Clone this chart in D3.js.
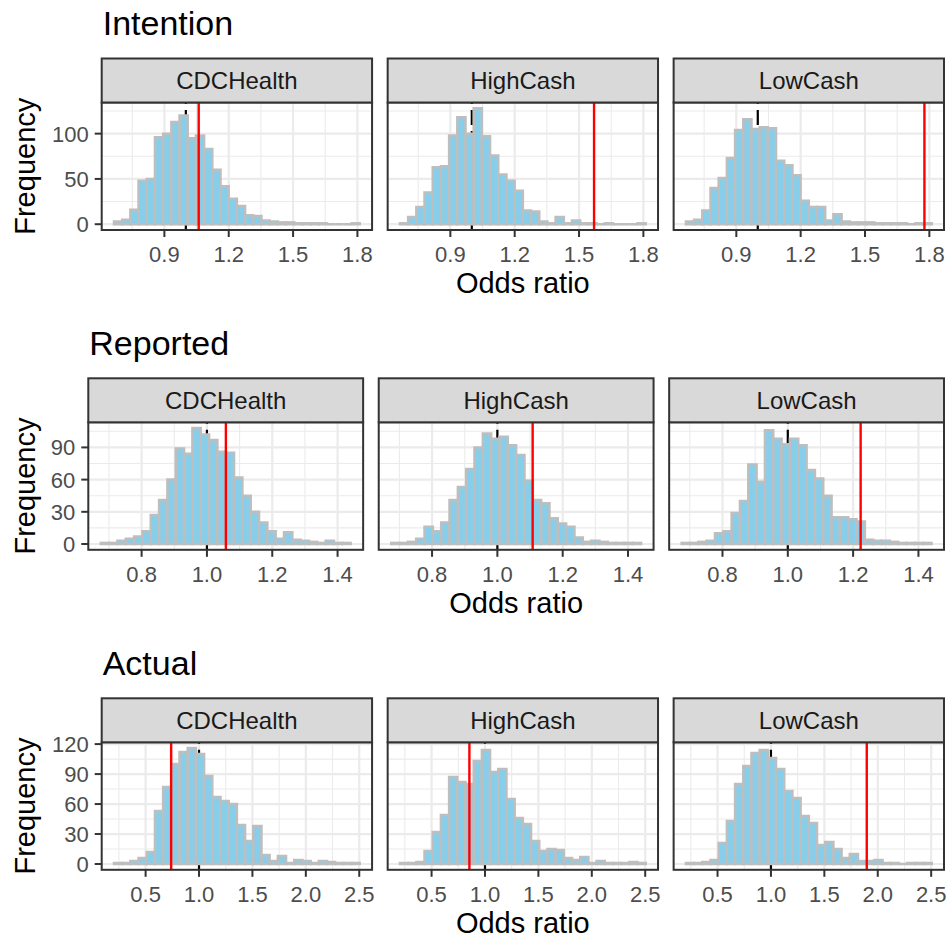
<!DOCTYPE html>
<html>
<head>
<meta charset="utf-8">
<script src="https://cdn.jsdelivr.net/npm/d3@7"></script>
<style>
  body { margin: 0; background: #fff; }
  svg { font-family: "Liberation Sans", Arial, Helvetica, sans-serif; }
</style>
</head>
<body>
<svg id="chart"></svg>
<script>
// facet names and outcome names
var arms = ["CDCHealth", "HighCash", "LowCash"];
var outcomes = ["Intention", "Reported", "Actual"];

// histogram bins (left edge of first bin, bin width), 30 bins per panel
var binStart = [0.665, 0.675, 0.204];
var binWidth = [0.0382, 0.0255, 0.0767];

// permutation counts
var intentionCDC  = [3,5,16,48,50,96,100,113,120,95,98,83,60,42,28,20,10,9,4,3,2,2,1,1,1,1,0,0,0,1];
var intentionHigh = [1,8,19,35,63,64,98,118,100,128,97,76,55,48,37,15,14,3,1,8,1,4,1,1,0,1,0,0,0,1];
var intentionLow  = [3,5,15,40,51,73,104,116,105,107,106,70,65,54,26,19,19,4,11,3,2,2,2,1,1,1,1,0,1,1];

var reportedCDC  = [1,1,3,5,7,12,27,41,60,89,84,108,102,97,86,85,62,45,30,20,12,5,11,4,3,2,1,3,1,1];
var reportedHigh = [1,1,2,5,16,12,20,41,53,70,90,103,98,100,92,83,59,41,38,24,19,16,6,2,3,2,1,1,1,1];
var reportedLow  = [1,1,2,3,10,12,29,40,74,58,106,98,93,98,92,69,61,45,25,25,23,21,4,3,3,2,1,1,1,1];

var actualCDC  = [1,1,3,6,12,53,77,100,112,116,110,88,67,63,60,39,23,38,9,3,8,1,4,3,1,3,2,1,1,1];
var actualHigh = [1,1,2,13,32,49,87,82,80,103,114,92,95,65,46,40,23,13,15,14,6,4,7,1,3,1,1,1,2,1];
var actualLow  = [1,1,2,4,21,43,80,98,111,114,106,95,73,66,48,41,19,22,15,6,10,3,3,4,1,1,0,1,1,1];

var counts = [
    [intentionCDC, intentionHigh, intentionLow],
    [reportedCDC, reportedHigh, reportedLow],
    [actualCDC, actualHigh, actualLow]
];

// observed odds ratios (red) and null value (black dashed)
var observedIntention = [1.06, 1.57, 1.777];
var observedReported  = [1.058, 1.108, 1.223];
var observedActual    = [0.739, 0.854, 1.897];
var observed = [observedIntention, observedReported, observedActual];
var nullValue = 1;

// tick values
var xTicks = [[0.9, 1.2, 1.5, 1.8], [0.8, 1.0, 1.2, 1.4], [0.5, 1.0, 1.5, 2.0, 2.5]];
var yTicks = [[0, 50, 100], [0, 30, 60, 90], [0, 30, 60, 90, 120]];

// layout
var width = 951, height = 942;
var rowLeft = [101.7, 88.3, 101.7];
var rowTop = [58.5, 378.3, 698.3];
var rightEdge = 944, gap = 15.6, stripH = 44, plotH = 127.5;

var svg = d3.select("#chart")
    .attr("width", width)
    .attr("height", height);

svg.append("rect")
    .attr("width", width)
    .attr("height", height)
    .attr("fill", "#fff");

function expand(lo, hi) {
    var pad = (hi - lo) * 0.05;
    return [lo - pad, hi + pad];
}

function minorTicks(ticks, domain) {
    var step = ticks[1] - ticks[0];
    var out = [];
    ticks.forEach(function(t) { out.push(t - step / 2); });
    out.push(ticks[ticks.length - 1] + step / 2);
    return out.filter(function(v) { return v >= domain[0] && v <= domain[1]; });
}

outcomes.forEach(function(outcome, r) {
    var left = rowLeft[r];
    var panelW = (rightEdge - left - 2 * gap) / 3;
    var stripTop = rowTop[r];
    var plotTop = stripTop + stripH;
    var plotBottom = plotTop + plotH;

    // shared scales within the row
    var lo = binStart[r], hi = binStart[r] + 30 * binWidth[r];
    var yMax = d3.max(counts[r], function(c) { return d3.max(c); });

    var xDomain = expand(lo, hi);
    var yDomain = expand(0, yMax);

    var y = d3.scaleLinear().domain(yDomain).range([plotBottom, plotTop]);

    // row title
    svg.append("text")
        .attr("x", left + 1)
        .attr("y", stripTop - 23.5)
        .style("font-size", "34px")
        .attr("fill", "#000")
        .text(outcome);

    // y axis title
    svg.append("text")
        .attr("transform", "translate(35," + ((plotTop + plotBottom) / 2) + ") rotate(-90)")
        .style("text-anchor", "middle")
        .style("font-size", "29px")
        .attr("fill", "#000")
        .text("Frequency");

    // x axis title
    svg.append("text")
        .attr("x", (left + rightEdge) / 2)
        .attr("y", plotBottom + 63)
        .style("text-anchor", "middle")
        .style("font-size", "29px")
        .attr("fill", "#000")
        .text("Odds ratio");

    arms.forEach(function(arm, a) {
        var px = left + a * (panelW + gap);
        var x = d3.scaleLinear().domain(xDomain).range([px, px + panelW]);
        var g = svg.append("g").attr("class", "panel");

        // grid
        g.selectAll(".xminor")
            .data(minorTicks(xTicks[r], xDomain))
            .enter().append("line")
            .attr("x1", function(d) { return x(d); })
            .attr("x2", function(d) { return x(d); })
            .attr("y1", plotTop).attr("y2", plotBottom)
            .attr("stroke", "#EBEBEB").attr("stroke-width", 1.1);
        g.selectAll(".yminor")
            .data(minorTicks(yTicks[r], yDomain))
            .enter().append("line")
            .attr("x1", px).attr("x2", px + panelW)
            .attr("y1", function(d) { return y(d); })
            .attr("y2", function(d) { return y(d); })
            .attr("stroke", "#EBEBEB").attr("stroke-width", 1.1);
        g.selectAll(".xmajor")
            .data(xTicks[r])
            .enter().append("line")
            .attr("x1", function(d) { return x(d); })
            .attr("x2", function(d) { return x(d); })
            .attr("y1", plotTop).attr("y2", plotBottom)
            .attr("stroke", "#EBEBEB").attr("stroke-width", 2.2);
        g.selectAll(".ymajor")
            .data(yTicks[r])
            .enter().append("line")
            .attr("x1", px).attr("x2", px + panelW)
            .attr("y1", function(d) { return y(d); })
            .attr("y2", function(d) { return y(d); })
            .attr("stroke", "#EBEBEB").attr("stroke-width", 2.2);

        // null line (under the bars)
        g.append("line")
            .attr("x1", x(nullValue)).attr("x2", x(nullValue))
            .attr("y1", plotBottom).attr("y2", plotTop)
            .attr("stroke", "#000")
            .attr("stroke-width", 2.2)
            .attr("stroke-dasharray", "15,6");

        // bars as paths so empty bins still show their outline
        g.selectAll(".bar")
            .data(counts[r][a])
            .enter().append("path")
            .attr("class", "bar")
            .attr("d", function(d, i) {
                var x0 = x(binStart[r] + i * binWidth[r]);
                var x1 = x(binStart[r] + (i + 1) * binWidth[r]);
                return "M" + x0 + "," + y(0) + "H" + x1 + "V" + y(d) + "H" + x0 + "Z";
            })
            .attr("fill", "#87CEEB")
            .attr("stroke", "#BEBEBE")
            .attr("stroke-width", 2.5);

        // observed line
        g.append("line")
            .attr("x1", x(observed[r][a])).attr("x2", x(observed[r][a]))
            .attr("y1", plotTop).attr("y2", plotBottom)
            .attr("stroke", "#FF0000")
            .attr("stroke-width", 2.4);

        // panel border
        g.append("rect")
            .attr("x", px).attr("y", plotTop)
            .attr("width", panelW).attr("height", plotH)
            .attr("fill", "none")
            .attr("stroke", "#333333")
            .attr("stroke-width", 2);

        // strip
        g.append("rect")
            .attr("x", px).attr("y", stripTop)
            .attr("width", panelW).attr("height", stripH)
            .attr("fill", "#D9D9D9")
            .attr("stroke", "#333333")
            .attr("stroke-width", 2);
        g.append("text")
            .attr("x", px + panelW / 2)
            .attr("y", stripTop + stripH / 2)
            .attr("dy", "0.36em")
            .style("text-anchor", "middle")
            .style("font-size", "24px")
            .attr("fill", "#1A1A1A")
            .text(arm);

        // x axis ticks and labels
        var xa = g.append("g");
        xa.selectAll("line")
            .data(xTicks[r])
            .enter().append("line")
            .attr("x1", function(d) { return x(d); })
            .attr("x2", function(d) { return x(d); })
            .attr("y1", plotBottom).attr("y2", plotBottom + 7)
            .attr("stroke", "#333333").attr("stroke-width", 2);
        xa.selectAll("text")
            .data(xTicks[r])
            .enter().append("text")
            .attr("x", function(d) { return x(d); })
            .attr("y", plotBottom + 31.7)
            .style("text-anchor", "middle")
            .style("font-size", "22px")
            .attr("fill", "#4D4D4D")
            .text(d3.format(".1f"));

        // y axis on the first panel only
        if (a === 0) {
            var ya = g.append("g");
            ya.selectAll("line")
                .data(yTicks[r])
                .enter().append("line")
                .attr("x1", px - 7).attr("x2", px)
                .attr("y1", function(d) { return y(d); })
                .attr("y2", function(d) { return y(d); })
                .attr("stroke", "#333333").attr("stroke-width", 2);
            ya.selectAll("text")
                .data(yTicks[r])
                .enter().append("text")
                .attr("x", px - 13)
                .attr("y", function(d) { return y(d); })
                .attr("dy", "0.36em")
                .style("text-anchor", "end")
                .style("font-size", "22px")
                .attr("fill", "#4D4D4D")
                .text(function(d) { return d; });
        }
    });
});
</script>
</body>
</html>
